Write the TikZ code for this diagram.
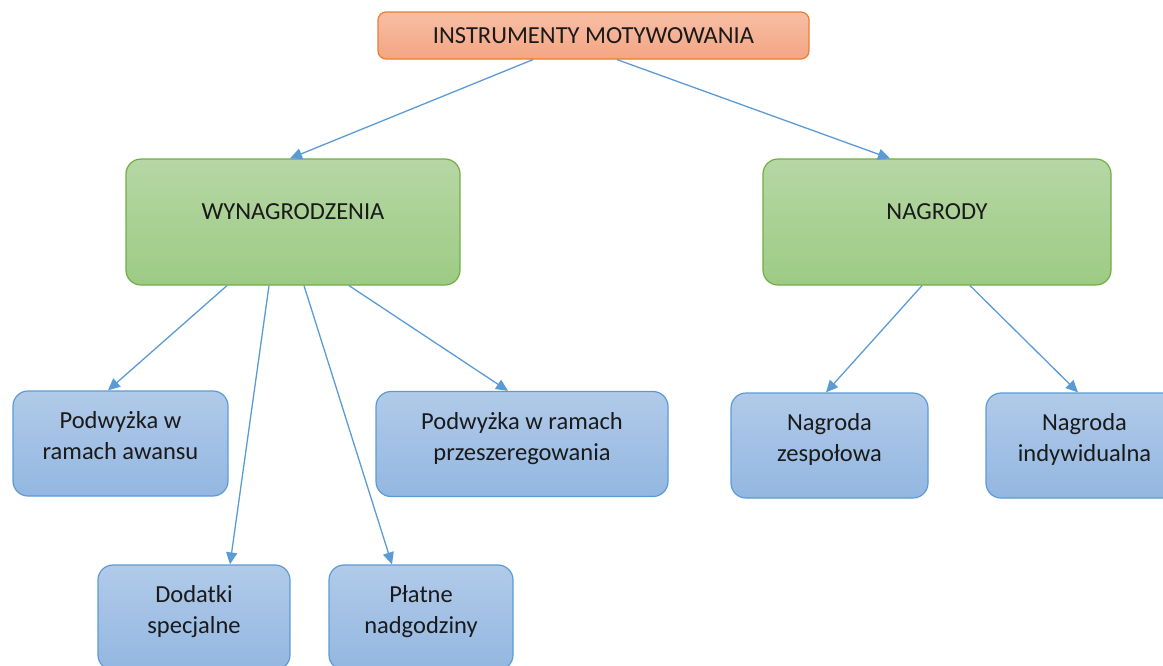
\documentclass[tikz,border=0pt]{standalone}
\usepackage{fontspec}
\setmainfont{Carlito}
\usetikzlibrary{arrows.meta}
\definecolor{txt}{HTML}{1A1A1A}
\definecolor{linkc}{HTML}{5B9BD5}
\tikzset{
  box/.style={rounded corners=15pt, line width=1.2pt, align=center, text=txt,
    font=\fontsize{24.5pt}{31pt}\selectfont, inner sep=0pt},
  topbox/.style={box, draw={rgb,255:red,237;green,125;blue,49},
    top color={rgb,255:red,248;green,190;blue,166}, bottom color={rgb,255:red,243;green,165;blue,130},
    rounded corners=8pt},
  greenbox/.style={box, draw={rgb,255:red,112;green,173;blue,71},
    top color={rgb,255:red,182;green,215;blue,165}, bottom color={rgb,255:red,157;green,203;blue,131}},
  bluebox/.style={box, draw={rgb,255:red,91;green,155;blue,213},
    top color={rgb,255:red,177;green,202;blue,233}, bottom color={rgb,255:red,147;green,183;blue,225}},
  link/.style={draw=linkc, line width=1.3pt, -{Triangle[length=12pt,width=11pt]}}
}
\begin{document}
\begin{tikzpicture}[x=1pt,y=-1pt]
\useasboundingbox (0,0) rectangle (1163,665);
\clip (0,0) rectangle (1163,665);
\node[topbox, minimum width=431pt, minimum height=47pt] (top) at (593.5,35.5) {INSTRUMENTY MOTYWOWANIA};
\node[greenbox, minimum width=334pt, minimum height=126pt] (wyn) at (293,222) {WYNAGRODZENIA\\[-10pt]\mbox{}};
\node[greenbox, minimum width=348pt, minimum height=126pt] (nag) at (937,222) {NAGRODY\\[-10pt]\mbox{}};
\node[bluebox, minimum width=215pt, minimum height=105pt] (pwa) at (120.5,443.5) {Podwyżka w\\ramach awansu\\[-15pt]\mbox{}};
\node[bluebox, minimum width=292pt, minimum height=105pt] (pwp) at (522,444) {Podwyżka w ramach\\przeszeregowania\\[-15pt]\mbox{}};
\node[bluebox, minimum width=192pt, minimum height=105pt] (ds) at (194,617.5) {Dodatki\\specjalne\\[-15pt]\mbox{}};
\node[bluebox, minimum width=184pt, minimum height=105pt] (pn) at (421,617.5) {Płatne\\nadgodziny\\[-15pt]\mbox{}};
\node[bluebox, minimum width=197pt, minimum height=105pt] (nz) at (829.5,445.5) {Nagroda\\zespołowa\\[-15pt]\mbox{}};
\node[bluebox, minimum width=197pt, minimum height=105pt] (ni) at (1084.5,445.5) {Nagroda\\indywidualna\\[-15pt]\mbox{}};
\draw[link] ([xshift=-60.5pt]top.south) -- ([xshift=-3pt]wyn.north);
\draw[link] ([xshift=23.5pt]top.south) -- ([xshift=-47pt]nag.north);
\draw[link] ([xshift=-66pt]wyn.south) -- ([xshift=-12.5pt]pwa.north);
\draw[link] ([xshift=-24pt]wyn.south) -- ([xshift=36pt]ds.north);
\draw[link] ([xshift=11pt]wyn.south) -- ([xshift=-29pt]pn.north);
\draw[link] ([xshift=56pt]wyn.south) -- ([xshift=-14pt]pwp.north);
\draw[link] ([xshift=-15pt]nag.south) -- ([xshift=-3.5pt]nz.north);
\draw[link] ([xshift=33pt]nag.south) -- ([xshift=-6.5pt]ni.north);
\end{tikzpicture}
\end{document}
